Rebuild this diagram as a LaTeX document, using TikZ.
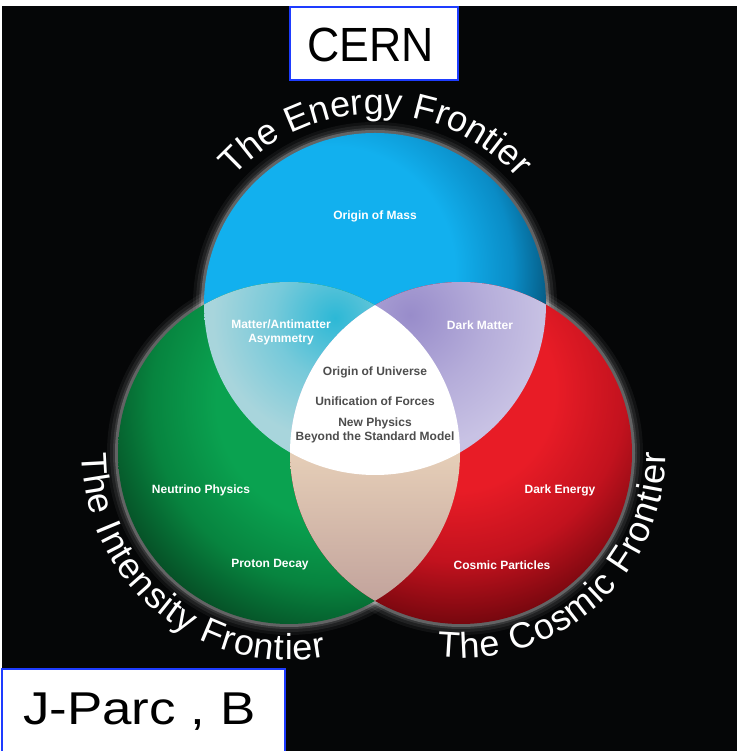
\documentclass[tikz,border=0pt]{standalone}
\usepackage{fontspec}
\usepackage{graphicx}
\setmainfont{Liberation Sans}
\usetikzlibrary{decorations.text}
\definecolor{bg}{HTML}{050607}
\definecolor{tagblue}{HTML}{1E3CFF}
\definecolor{midgray}{HTML}{4D4D4D}
\definecolor{blueA}{HTML}{12B0EE}
\definecolor{blueB}{HTML}{0A8CC6}
\definecolor{blueC}{HTML}{03405F}
\definecolor{greenA}{HTML}{0AA250}
\definecolor{greenB}{HTML}{07843F}
\definecolor{greenC}{HTML}{05361A}
\definecolor{redA}{HTML}{E81C26}
\definecolor{redB}{HTML}{C2121E}
\definecolor{redC}{HTML}{62040A}
\definecolor{tealA}{HTML}{2CB8D6}
\definecolor{tealB}{HTML}{A8D5DC}
\definecolor{lavA}{HTML}{988CCA}
\definecolor{lavB}{HTML}{C8C2E4}
\definecolor{tanA}{HTML}{E6CFB8}
\definecolor{tanB}{HTML}{C2A39C}
\pgfdeclareradialshading{blueshade}{\pgfpoint{0bp}{0bp}}{color(0bp)=(blueA); color(13bp)=(blueA); color(19bp)=(blueB); color(25bp)=(blueC); color(50bp)=(blueC)}
\pgfdeclareradialshading{greenshade}{\pgfpoint{0bp}{0bp}}{color(0bp)=(greenA); color(11bp)=(greenA); color(17bp)=(greenB); color(25bp)=(greenC); color(50bp)=(greenC)}
\pgfdeclareradialshading{redshade}{\pgfpoint{0bp}{0bp}}{color(0bp)=(redA); color(10bp)=(redA); color(17bp)=(redB); color(25bp)=(redC); color(50bp)=(redC)}
\pgfdeclareradialshading{tealshade}{\pgfpoint{0bp}{0bp}}{color(0bp)=(tealA); color(9bp)=(tealB!60!tealA); color(18bp)=(tealB); color(50bp)=(tealB)}
\pgfdeclareradialshading{lavshade}{\pgfpoint{0bp}{0bp}}{color(0bp)=(lavA); color(11bp)=(lavB!60!lavA); color(20bp)=(lavB); color(50bp)=(lavB)}
\newcommand{\frontierfont}{\fontsize{36}{36}\selectfont}
\newcommand{\arctitle}[2]{%
  \path[decorate,decoration={text along path,text={|\frontierfont|#2},text color=white,text align=fit to path}] #1;}
\begin{document}
\begin{tikzpicture}[x=1pt,y=1pt,
  inlabel/.style={font=\fontsize{12}{14}\selectfont\bfseries,text=white,align=center,inner sep=0pt},
  midlabel/.style={inlabel,text=midgray},
  tagbox/.style={draw=tagblue,line width=2pt,fill=white}]
\useasboundingbox (0,0) rectangle (740,751);
\fill[white] (0,0) rectangle (740,751);
\fill[bg] (2,0) rectangle (737,745);
\coordinate (B) at (375,447);
\coordinate (G) at (289,298);
\coordinate (R) at (461,298);
% halos
\foreach \c in {B,G,R}{
  \foreach \w/\o in {20/0.05,14/0.07,8/0.1,4/0.22}{
    \draw[white,line width=\w,opacity=\o] (\c) circle (172);
  }
}
% main discs
\begin{scope}\clip (B) circle (171); \shade[shading=blueshade] (330,480) circle (240); \end{scope}
\begin{scope}\clip (G) circle (171); \shade[shading=greenshade] (335,350) circle (270); \end{scope}
\begin{scope}\clip (R) circle (171); \shade[shading=redshade] (455,360) circle (250); \end{scope}
% pairwise overlaps
\begin{scope}\clip (B) circle (171); \clip (G) circle (171); \shade[shading=tealshade] (335,433) circle (170); \end{scope}
\begin{scope}\clip (B) circle (171); \clip (R) circle (171); \shade[shading=lavshade] (410,436) circle (170); \end{scope}
\begin{scope}\clip (G) circle (171); \clip (R) circle (171); \shade[top color=tanA,bottom color=tanB] (200,150) rectangle (550,300); \end{scope}
% centre
\begin{scope}\clip (B) circle (171); \clip (G) circle (171); \fill[white] (R) circle (171); \end{scope}
% labels inside
\node[inlabel] (mass) at (375,535) {Origin of Mass};
\node[inlabel] (matter) at (281,419) {Matter/Antimatter\\Asymmetry};
\node[inlabel] (dark) at (480,426) {Dark Matter};
\node[midlabel] (universe) at (375,379) {Origin of Universe};
\node[midlabel] (unif) at (375,350) {Unification of Forces};
\node[midlabel] (newphys) at (375,320.5) {New Physics\\Beyond the Standard Model};
\node[inlabel] (neutrino) at (201,261) {Neutrino Physics};
\node[inlabel] (proton) at (270,186) {Proton Decay};
\node[inlabel] (darkE) at (560,261) {Dark Energy};
\node[inlabel] (cosmicP) at (502,186) {Cosmic Particles};
% curved titles
\arctitle{(B) ++(138:190) arc[start angle=138,end angle=42,radius=190]}{The Energy Frontier}
\arctitle{(G) ++(180:207) arc[start angle=180,end angle=280.5,radius=207]}{The Intensity Frontier}
\arctitle{(R) ++(263.5:205) arc[start angle=263.5,end angle=360,radius=205]}{The Cosmic Frontier}
% tag boxes
\draw[tagbox] (290,671) rectangle (458,744);
\node[anchor=base west,inner sep=0pt,font=\fontsize{48}{48}\selectfont] (cern) at (307,689) {\scalebox{0.93}[1]{CERN}};
\draw[tagbox] (2,-6) rectangle (285,82);
\node[anchor=base west,inner sep=0pt,font=\fontsize{46}{46}\selectfont] (jparc) at (23,26) {\scalebox{1.15}[1]{J-Parc , B}};
\end{tikzpicture}
\end{document}
